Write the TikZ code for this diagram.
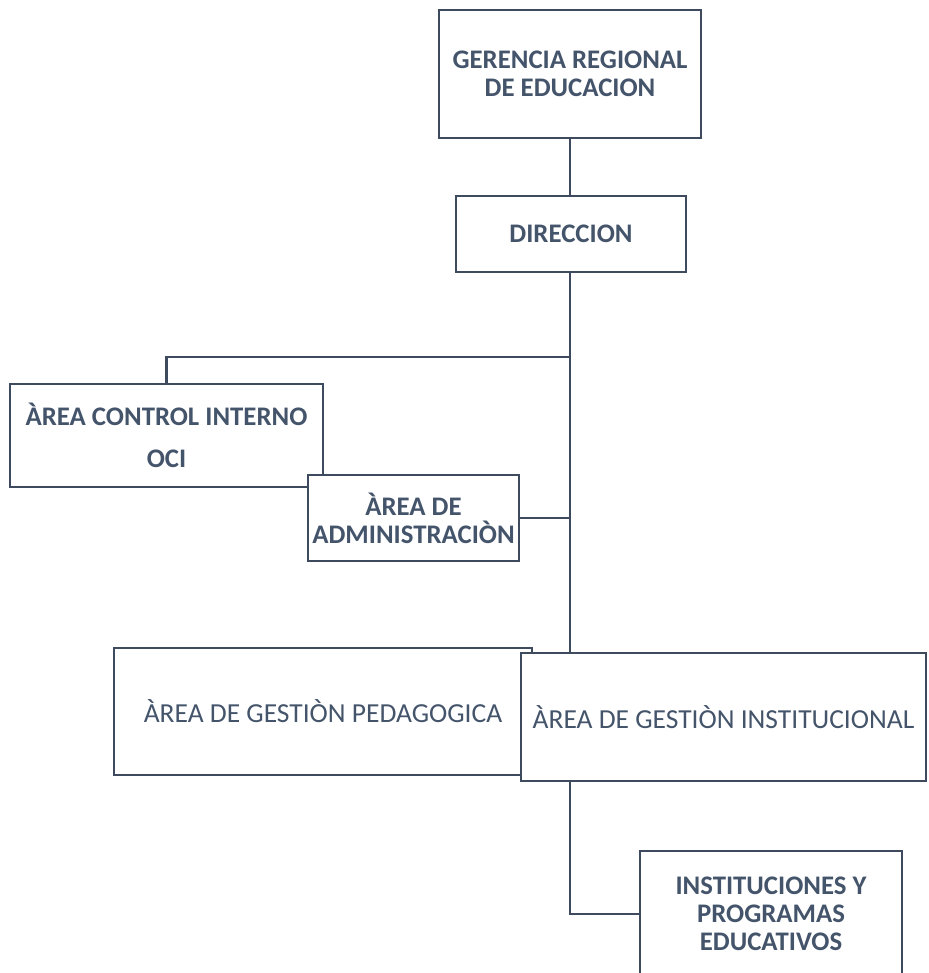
\documentclass[tikz,border=0pt]{standalone}
\usepackage{fontspec}
\setmainfont{Carlito}
\definecolor{lc}{HTML}{3E4B5E}
\definecolor{tc}{HTML}{44546A}
\begin{document}
\begin{tikzpicture}[x=1pt,y=-1pt,
  orgbox/.style={draw=lc, line width=2.2pt, fill=white, inner sep=0pt, align=center,
    text=tc, font=\fontsize{26.8}{28}\selectfont\bfseries},
  regbox/.style={orgbox, font=\fontsize{27.5}{28}\selectfont},
  conn/.style={draw=lc, line width=2.2pt}]
\clip (0,0) rectangle (928,973);
\fill[white] (0,0) rectangle (928,973);

\node[orgbox, minimum width=262pt, minimum height=128pt] (ger) at (570,74) {GERENCIA REGIONAL\\DE EDUCACION};
\node[orgbox, minimum width=230pt, minimum height=76pt] (dir) at (571,234) {DIRECCION};
\node[orgbox, minimum width=313pt, minimum height=103pt] (oci) at (166.5,435.5) {ÀREA CONTROL INTERNO\\[14pt]OCI};
\node[orgbox, minimum width=211pt, minimum height=86pt] (adm) at (413.5,518) {ÀREA DE\\ADMINISTRACIÒN};
\node[regbox, minimum width=418pt, minimum height=127pt] (ped) at (323,711.5) {ÀREA DE GESTIÒN PEDAGOGICA};
\node[regbox, minimum width=405pt, minimum height=128pt] (ins) at (723.5,717) {ÀREA DE GESTIÒN INSTITUCIONAL};
\node[orgbox, minimum width=262pt, minimum height=126pt] (edu) at (771,914) {INSTITUCIONES Y\\PROGRAMAS\\EDUCATIVOS};

\coordinate (j1) at (570,357);
\coordinate (j2) at (570,781);

\draw[conn] (570,138) -- (570,196);
\draw[conn] (570,272) -- (570,653);
\draw[conn] (oci.north) |- (j1);
\draw[conn] (adm.east) -- (adm.east -| j1);
\draw[conn] (j2) |- (edu.west);
\end{tikzpicture}
\end{document}
